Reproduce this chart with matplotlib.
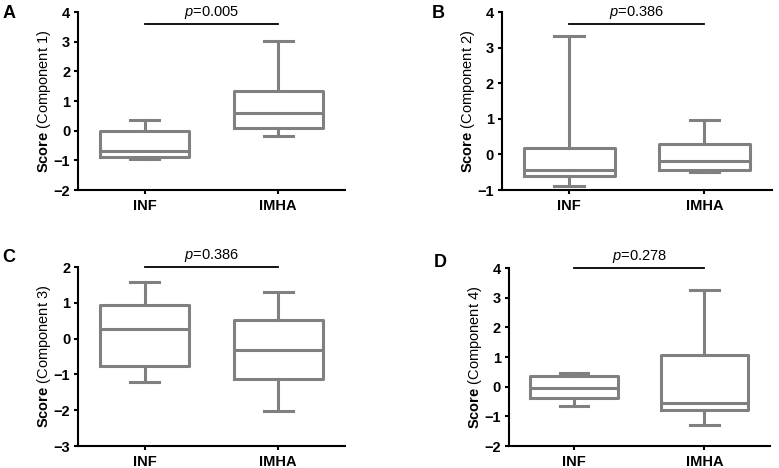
import matplotlib
matplotlib.use("Agg")
import matplotlib.pyplot as plt

plt.rcParams['font.family'] = ['Liberation Sans', 'DejaVu Sans']
plt.rcParams['mathtext.fontset'] = 'custom'
plt.rcParams['mathtext.rm'] = 'Liberation Sans'
plt.rcParams['mathtext.it'] = 'Liberation Sans:italic'
plt.rcParams['mathtext.bf'] = 'Liberation Sans:bold'

groups = ["INF", "IMHA"]

# five-number summaries per panel: (min, Q1, median, Q3, max)
comp1_inf = [-0.96, -0.88, -0.67, 0.0, 0.37]
comp1_imha = [-0.18, 0.08, 0.60, 1.33, 3.02]
comp2_inf = [-0.88, -0.60, -0.45, 0.18, 3.33]
comp2_imha = [-0.48, -0.45, -0.18, 0.28, 0.98]
comp3_inf = [-1.20, -0.77, 0.27, 0.95, 1.58]
comp3_imha = [-2.02, -1.12, -0.32, 0.53, 1.32]
comp4_inf = [-0.65, -0.38, -0.05, 0.35, 0.45]
comp4_imha = [-1.28, -0.80, -0.55, 1.08, 3.27]

p_values = ["0.005", "0.386", "0.386", "0.278"]
p_bar_y = [3.6, 3.66, 2.0, 4.0]
y_limits = [(-2, 4), (-1, 4), (-3, 2), (-2, 4)]
panel_letters = ["A", "B", "C", "D"]

panels = [
    (comp1_inf, comp1_imha),
    (comp2_inf, comp2_imha),
    (comp3_inf, comp3_imha),
    (comp4_inf, comp4_imha),
]

# axes rectangles in figure fraction
rects = [
    [0.100, 0.594, 0.343, 0.380],
    [0.644, 0.594, 0.347, 0.380],
    [0.100, 0.047, 0.343, 0.382],
    [0.653, 0.047, 0.335, 0.380],
]
letter_pos = [(0.003, 0.99), (0.554, 0.99), (0.003, 0.468), (0.557, 0.457)]

grey = "#808080"
fig = plt.figure(figsize=(7.79, 4.68), dpi=100)

for i, (inf, imha) in enumerate(panels):
    ax = fig.add_axes(rects[i])
    stats = []
    for lab, s in zip(groups, (inf, imha)):
        stats.append({"label": lab, "whislo": s[0], "q1": s[1], "med": s[2],
                      "q3": s[3], "whishi": s[4], "fliers": []})
    lp = dict(color=grey, linewidth=2.2)
    ax.bxp(stats, positions=[0, 1], widths=0.67, showfliers=False,
           boxprops=lp, whiskerprops=lp, capprops=lp, medianprops=lp,
           capwidths=0.22)
    ax.set_xlim(-0.5, 1.5)
    lo, hi = y_limits[i]
    ax.set_ylim(lo, hi)
    ax.set_yticks(range(lo, hi + 1))
    for sp in ("top", "right"):
        ax.spines[sp].set_visible(False)
    for sp in ("left", "bottom"):
        ax.spines[sp].set_linewidth(1.5)
    ax.tick_params(width=1.5, length=3, labelsize=10.5)
    ax.tick_params(axis="y", pad=2.5)
    ax.tick_params(axis="x", pad=3.5)
    for t in ax.get_xticklabels() + ax.get_yticklabels():
        t.set_fontweight("bold")
    ax.set_ylabel(r"$\bf{Score}$ (Component %d)" % (i + 1), fontsize=10.5,
                  labelpad=0.5)

    # significance bar
    ax.plot([0, 1], [p_bar_y[i], p_bar_y[i]], color="black", linewidth=1.3,
            clip_on=False)
    ax.annotate(r"$p$=" + p_values[i], xy=(0.5, p_bar_y[i]),
                xytext=(0, 2), textcoords="offset points",
                ha="center", va="bottom", fontsize=10.5, annotation_clip=False)

    fig.text(letter_pos[i][0], letter_pos[i][1], panel_letters[i],
             fontsize=13, fontweight="bold", va="top", ha="left")

fig.savefig("out.png", dpi=100)
